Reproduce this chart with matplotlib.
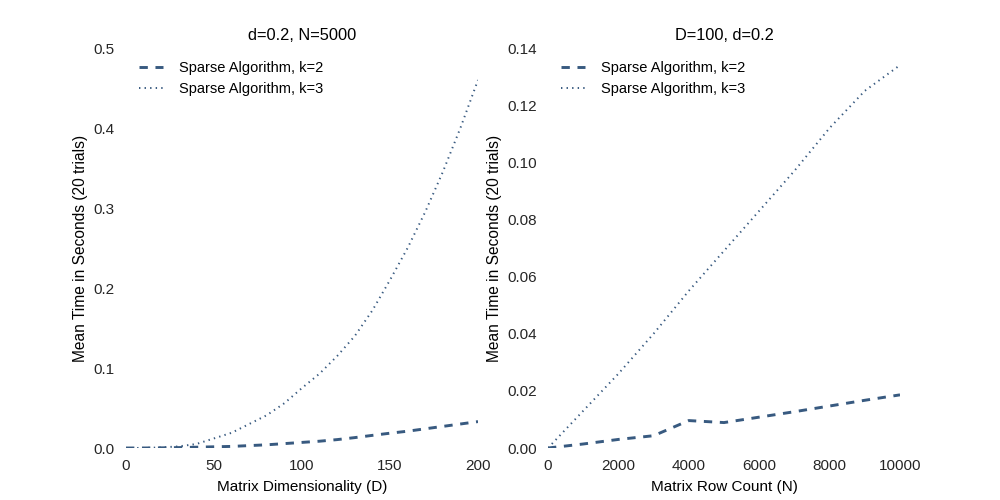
import matplotlib
matplotlib.use('Agg')
import matplotlib.pyplot as plt

plt.rcParams['font.family'] = ['Liberation Sans', 'DejaVu Sans']
plt.rcParams['lines.scale_dashes'] = False

# left panel: time vs dimensionality (d=0.2, N=5000)
dims = [0, 10, 20, 30, 40, 50, 60, 70, 80, 90, 100, 110, 120, 130, 140, 150, 160, 170, 180, 190, 200]
dim_k2 = [0.0, 0.0, 0.0002, 0.0005, 0.001, 0.0015, 0.002, 0.003, 0.004, 0.0055, 0.007, 0.0085,
          0.0105, 0.013, 0.0158, 0.0185, 0.021, 0.024, 0.027, 0.030, 0.033]
dim_k3 = [0.0, 0.0001, 0.0007, 0.002, 0.005, 0.012, 0.019, 0.03, 0.041, 0.056, 0.075, 0.093,
          0.115, 0.14, 0.172, 0.21, 0.25, 0.295, 0.345, 0.40, 0.46]

# right panel: time vs row count (D=100, d=0.2)
rows = [0, 1000, 2000, 3000, 4000, 5000, 6000, 7000, 8000, 9000, 10000]
row_k2 = [0.0, 0.0014, 0.003, 0.0043, 0.0096, 0.0089, 0.0108, 0.0127, 0.0147, 0.0167, 0.0186]
row_k3 = [0.0, 0.013, 0.026, 0.040, 0.055, 0.069, 0.083, 0.097, 0.112, 0.125, 0.134]

color = '#385a80'

fig = plt.figure(figsize=(10, 5), dpi=100)
ax1 = fig.add_axes([0.126, 0.104, 0.352, 0.8])
ax2 = fig.add_axes([0.548, 0.104, 0.352, 0.8])

panels = [
    (ax1, dims, dim_k2, dim_k3, 'd=0.2, N=5000', 'Matrix Dimensionality (D)', (0, 200), (0, 0.5)),
    (ax2, rows, row_k2, row_k3, 'D=100, d=0.2', 'Matrix Row Count (N)', (0, 10000), (0, 0.14)),
]

for ax, x, k2, k3, title, xlabel, xlim, ylim in panels:
    ax.plot(x, k2, color=color, lw=2.1, dashes=(6, 5.5), label='Sparse Algorithm, k=2')
    ax.plot(x, k3, color=color, lw=1.4, dashes=(1, 3), label='Sparse Algorithm, k=3')
    ax.set_xlim(*xlim)
    ax.set_ylim(*ylim)
    ax.set_title(title, fontsize=11.8)
    ax.set_xlabel(xlabel, fontsize=11, labelpad=5)
    ax.set_ylabel('Mean Time in Seconds (20 trials)', fontsize=11.2)
    for s in ax.spines.values():
        s.set_visible(False)
    ax.tick_params(length=0, labelsize=11, colors='#262626', pad=8)
    ax.legend(loc='upper left', frameon=False, fontsize=10.5, handlelength=1.65,
              handletextpad=1.1, bbox_to_anchor=(0.0, 1.0))

ax1.set_yticks([0.0, 0.1, 0.2, 0.3, 0.4, 0.5])
ax1.set_yticklabels(['0.0', '0.1', '0.2', '0.3', '0.4', '0.5'])
ax1.set_xticks([0, 50, 100, 150, 200])
ax2.set_yticks([0.0, 0.02, 0.04, 0.06, 0.08, 0.10, 0.12, 0.14])
ax2.set_yticklabels(['0.00', '0.02', '0.04', '0.06', '0.08', '0.10', '0.12', '0.14'])
ax2.set_xticks([0, 2000, 4000, 6000, 8000, 10000])

fig.savefig('out.png', dpi=100)
